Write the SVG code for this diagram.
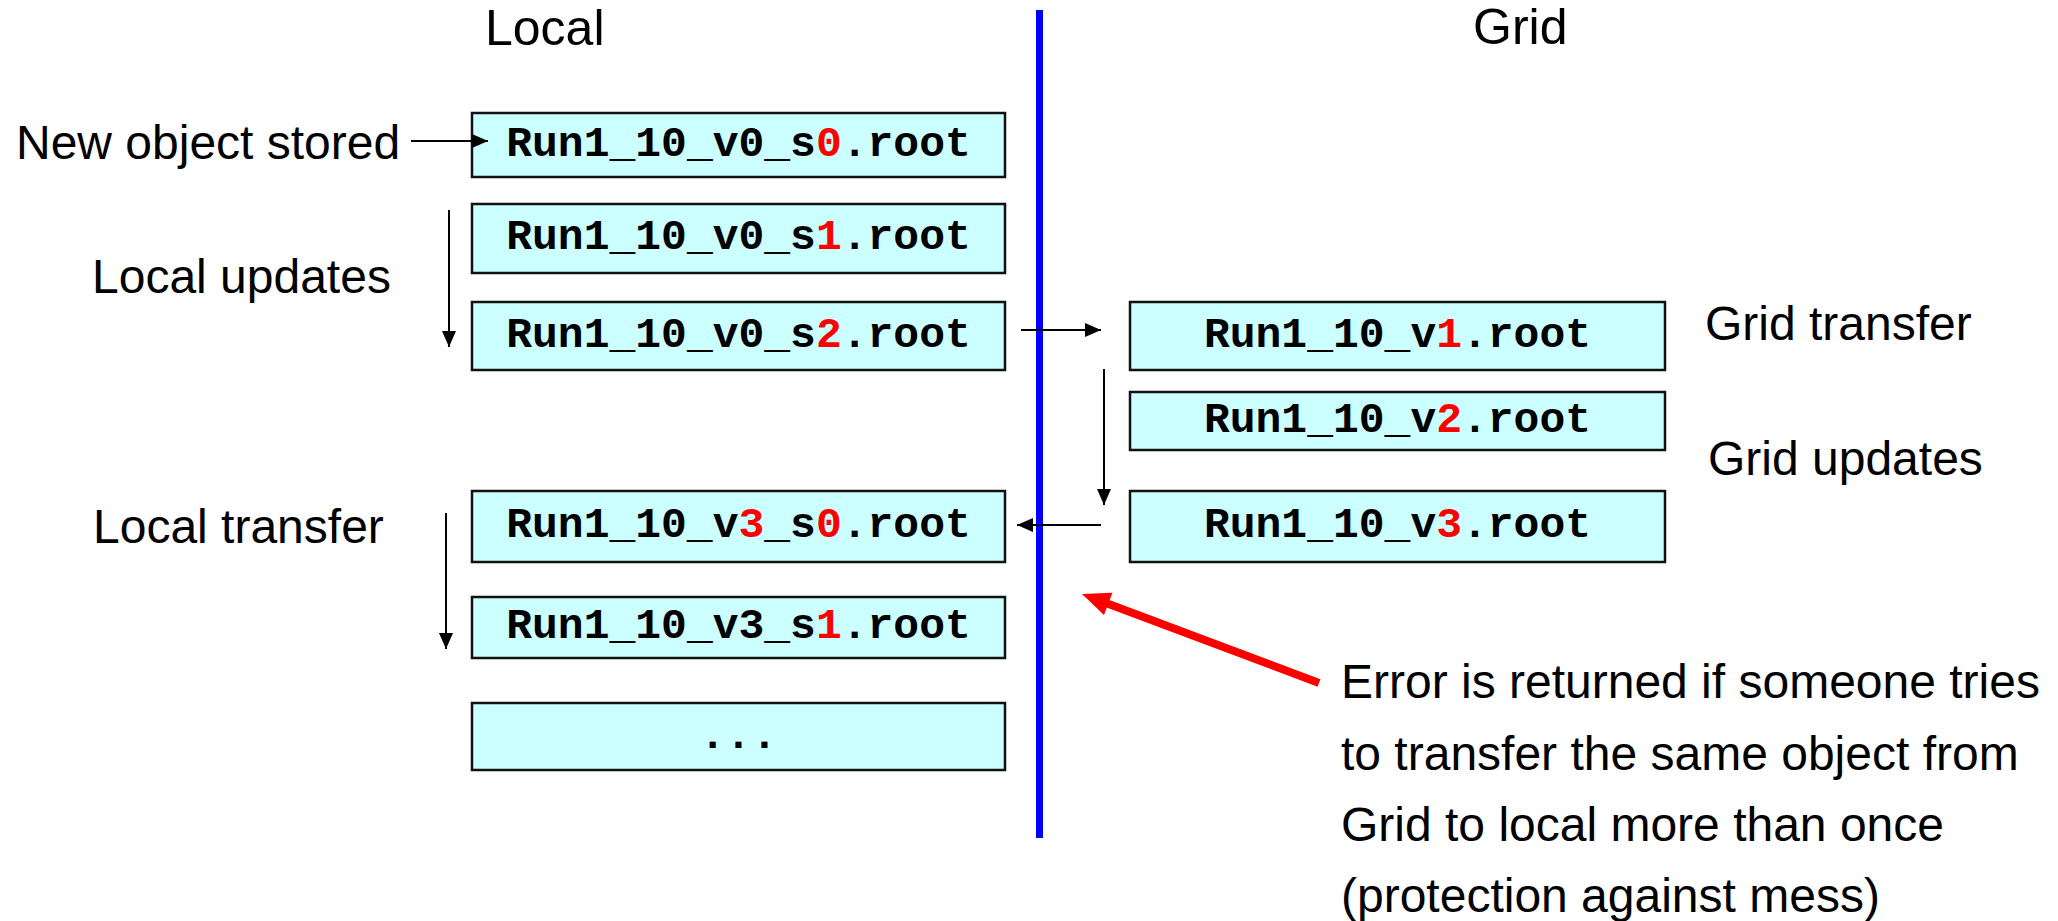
<svg xmlns="http://www.w3.org/2000/svg" width="2058" height="921" viewBox="0 0 2058 921">
<style>
.lbl{font-family:"Liberation Sans",Arial,sans-serif;font-size:48px;fill:#000}
.hdr{font-family:"Liberation Sans",Arial,sans-serif;font-size:50px;fill:#000}
.box{fill:#CCFFFF;stroke:#111;stroke-width:2.5}
.mono{font-family:"Liberation Mono","Courier New",monospace;font-weight:bold;font-size:43px;fill:#000;text-anchor:middle}
.red{fill:#FF0000}
.conn{stroke:#000;stroke-width:2;fill:none;marker-end:url(#ah)}
</style>
<defs>
<marker id="ah" markerUnits="userSpaceOnUse" markerWidth="16" markerHeight="16" viewBox="0 0 16 16" refX="16" refY="8" orient="auto">
<path d="M0,1 L16,8 L0,15 Z" fill="#000"/>
</marker>
</defs>
<rect width="2058" height="921" fill="#fff"/>

<g id="headers">
<text class="hdr" x="485" y="45">Local</text>
<text class="hdr" x="1473" y="44">Grid</text>
</g>

<g id="divider">
<line x1="1039.5" y1="10" x2="1039.5" y2="838" stroke="#0000FF" stroke-width="7"/>
</g>

<g id="labels">
<text class="lbl" x="16" y="159">New object stored</text>
<text class="lbl" x="92" y="293">Local updates</text>
<text class="lbl" x="93" y="543">Local transfer</text>
<text class="lbl" x="1705" y="340">Grid transfer</text>
<text class="lbl" x="1708" y="475">Grid updates</text>
</g>

<g id="node-l1"><rect class="box" x="472" y="113" width="533" height="64"/><text class="mono" x="738.5" y="156">Run1_10_v0_s<tspan class="red">0</tspan>.root</text></g>
<g id="node-l2"><rect class="box" x="472" y="204" width="533" height="69"/><text class="mono" x="738.5" y="249">Run1_10_v0_s<tspan class="red">1</tspan>.root</text></g>
<g id="node-l3"><rect class="box" x="472" y="302" width="533" height="68"/><text class="mono" x="738.5" y="347">Run1_10_v0_s<tspan class="red">2</tspan>.root</text></g>
<g id="node-l4"><rect class="box" x="472" y="491" width="533" height="71"/><text class="mono" x="738.5" y="537">Run1_10_v<tspan class="red">3</tspan>_s<tspan class="red">0</tspan>.root</text></g>
<g id="node-l5"><rect class="box" x="472" y="597" width="533" height="61"/><text class="mono" x="738.5" y="638">Run1_10_v3_s<tspan class="red">1</tspan>.root</text></g>
<g id="node-l6"><rect class="box" x="472" y="703" width="533" height="67"/><text class="mono" x="738.5" y="748">...</text></g>

<g id="node-g1"><rect class="box" x="1130" y="302" width="535" height="68"/><text class="mono" x="1397.5" y="347">Run1_10_v<tspan class="red">1</tspan>.root</text></g>
<g id="node-g2"><rect class="box" x="1130" y="392" width="535" height="58"/><text class="mono" x="1397.5" y="432">Run1_10_v<tspan class="red">2</tspan>.root</text></g>
<g id="node-g3"><rect class="box" x="1130" y="491" width="535" height="71"/><text class="mono" x="1397.5" y="537">Run1_10_v<tspan class="red">3</tspan>.root</text></g>

<g id="note">
<text class="lbl" x="1341" y="698">Error is returned if someone tries</text>
<text class="lbl" x="1341" y="770">to transfer the same object from</text>
<text class="lbl" x="1341" y="841">Grid to local more than once</text>
<text class="lbl" x="1341" y="912">(protection against mess)</text>
</g>

<g id="connectors">
<line class="conn" x1="411" y1="141" x2="488" y2="141"/>
<line class="conn" x1="449" y1="210" x2="449" y2="347"/>
<line class="conn" x1="1021" y1="330" x2="1101" y2="330"/>
<line class="conn" x1="1104" y1="369" x2="1104" y2="505"/>
<line class="conn" x1="1101" y1="525" x2="1017" y2="525"/>
<line class="conn" x1="446" y1="513" x2="446" y2="649"/>
<line x1="1319" y1="683" x2="1106" y2="603" stroke="#FF0000" stroke-width="8"/>
<polygon points="1082,594 1112.4,592.7 1104,615.1" fill="#FF0000"/>
</g>
</svg>
